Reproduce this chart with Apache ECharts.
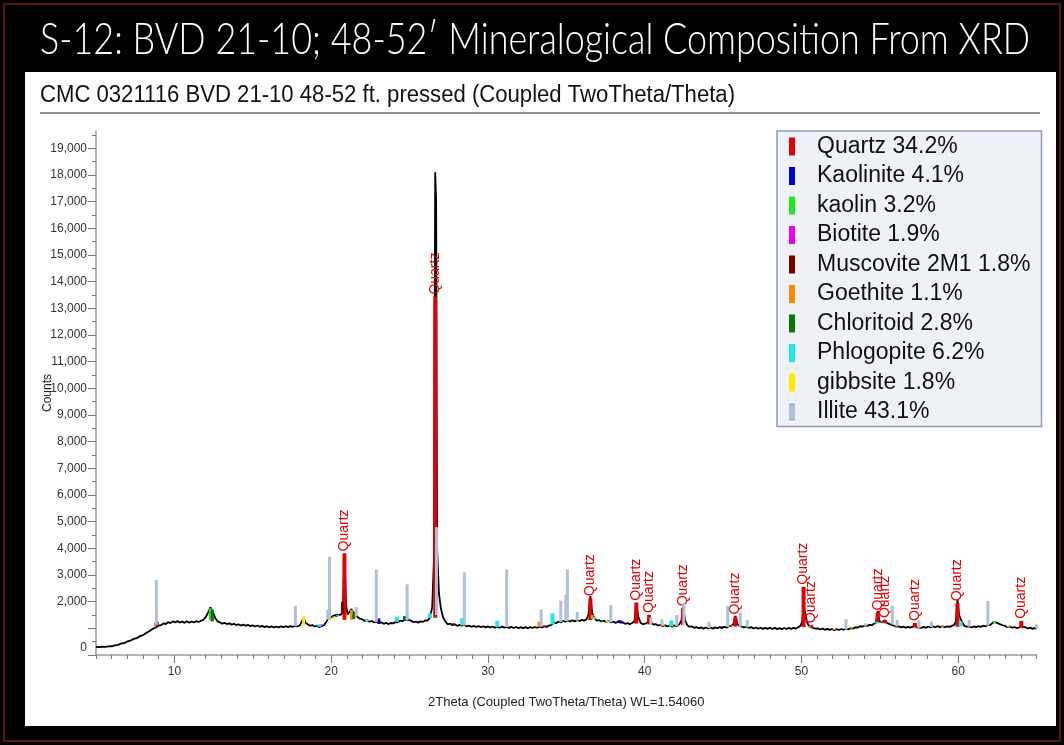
<!DOCTYPE html>
<html><head><meta charset="utf-8">
<script src="https://cdn.jsdelivr.net/npm/echarts@6/dist/echarts.min.js"></script>
<style>html,body{margin:0;padding:0;background:#000}#c{width:1064px;height:745px}</style>
</head><body><div id="c"></div>
<script>
// ---------- DATA ----------
const mainTitle = 'S-12: BVD 21-10; 48-52\u2032 Mineralogical Composition From XRD';
const subTitle = 'CMC 0321116 BVD 21-10 48-52 ft. pressed (Coupled TwoTheta/Theta)';
const xAxisTitle = '2Theta (Coupled TwoTheta/Theta) WL=1.54060';
const yAxisTitle = 'Counts';
const peakLabel = 'Quartz';

const xMajorTicks = [10, 20, 30, 40, 50, 60];
const yMajorTicks = [0,1000,2000,3000,4000,5000,6000,7000,8000,9000,10000,11000,12000,13000,14000,15000,16000,17000,18000,19000];
const yTickLabels = [0,2000,3000,4000,5000,6000,7000,8000,9000,10000,11000,12000,13000,14000,15000,16000,17000,18000,19000];
const yMinorTicks = [500,1500,2500,3500,4500,5500,6500,7500,8500,9500,10500,11500,12500,13500,14500,15500,16500,17500,18500,19500];

const phaseNames = ['Quartz','Kaolinite','kaolin','Biotite','Muscovite 2M1','Goethite','Chloritoid','Phlogopite','gibbsite','Illite'];
const phasePercents = [34.2, 4.1, 3.2, 1.9, 1.8, 1.1, 2.8, 6.2, 1.8, 43.1];

// measured pattern: [2theta, counts]
const pattern = [[5.0,310],[5.2,298],[5.4,310],[5.6,302],[5.8,322],[6.0,328],[6.2,358],[6.4,378],[6.6,428],[6.8,450],[7.0,508],[7.2,540],[7.4,602],[7.6,632],[7.8,708],[8.0,745],[8.2,828],[8.4,890],[8.6,972],[8.8,1030],[9.0,1100],[9.15,1120],[9.3,1185],[9.45,1160],
[9.6,1230],[9.75,1195],[9.9,1262],[10.05,1218],[10.2,1270],[10.35,1215],[10.5,1258],[10.65,1205],[10.8,1262],[10.95,1212],[11.1,1255],[11.25,1220],[11.4,1268],[11.55,1236],[11.7,1285],[11.85,1320],[12.0,1420],[12.15,1590],[12.3,1790],[12.45,1620],[12.6,1390],[12.75,1262],[12.9,1225],[13.05,1175],[13.2,1205],[13.35,1160],[13.5,1185],[13.65,1140],[13.8,1170],[13.95,1122],[14.1,1150],[14.25,1105],[14.4,1138],[14.55,1095],[14.7,1128],[14.85,1082],[15.0,1115],[15.15,1070],[15.3,1105],[15.45,1058],[15.6,1092],[15.75,1045],[15.9,1080],[16.05,1035],[16.2,1072],[16.35,1030],[16.5,1068],[16.65,1038],[16.8,1075],[16.95,1040],[17.1,1080],[17.25,1048],[17.4,1085],[17.55,1055],[17.7,1095],[17.85,1070],[18.0,1110],[18.12,1180],[18.25,1380],[18.38,1200],[18.5,1140],[18.65,1095],[18.8,1125],[18.95,1070],[19.1,1088],[19.25,1040],[19.4,1085],[19.55,1120],
[19.7,1250],[19.8,1350],[19.9,1420],[20.05,1430],[20.2,1490],[20.35,1475],[20.5,1500],[20.65,1520],[20.75,1700],[20.85,3800],[20.95,1900],[21.05,1520],[21.2,1640],[21.3,1720],[21.42,1600],[21.55,1520],[21.7,1420],[21.85,1360],
[22.0,1335],[22.15,1280],[22.3,1305],[22.45,1250],[22.6,1275],[22.75,1218],[22.9,1248],[23.05,1192],[23.2,1225],[23.35,1170],[23.5,1205],[23.65,1160],[23.8,1200],[23.95,1185],[24.1,1235],[24.25,1225],[24.4,1285],[24.55,1270],[24.7,1330],[24.8,1395],[24.95,1310],[25.1,1285],[25.25,1228],[25.4,1255],[25.55,1210],[25.7,1262],[25.85,1240],[26.0,1300],[26.15,1290],[26.3,1390],
[26.45,1800],[26.56,3600],[26.64,18100],[26.7,17000],[26.76,4000],[26.88,2300],[27.0,1750],[27.15,1400],
[27.3,1240],[27.45,1150],[27.6,1175],[27.75,1118],[27.9,1145],[28.05,1095],[28.2,1130],[28.35,1100],[28.5,1135],[28.65,1072],[28.8,1100],[28.95,1058],[29.1,1092],[29.25,1050],[29.4,1085],[29.55,1040],[29.7,1080],[29.85,1035],[30.0,1072],[30.15,1030],[30.3,1068],[30.45,1025],[30.6,1065],[30.75,1022],[30.9,1062],[31.05,1025],[31.2,1058],[31.35,1015],[31.5,1055],[31.65,1012],[31.8,1050],[31.95,1010],[32.1,1048],[32.25,1005],[32.4,1045],[32.55,1008],[32.7,1042],[32.85,1012],[33.0,1050],[33.15,1022],[33.3,1065],[33.45,1035],[33.6,1075],[33.75,1055],[33.9,1105],[34.05,1130],[34.2,1210],[34.35,1195],[34.5,1248],[34.65,1222],[34.8,1275],[34.95,1250],[35.1,1300],[35.25,1258],[35.4,1302],[35.55,1262],[35.7,1310],[35.85,1275],[36.0,1318],[36.15,1290],[36.3,1340],[36.42,1520],[36.54,2210],[36.66,1560],[36.8,1380],[36.95,1290],[37.1,1305],[37.25,1255],[37.4,1290],[37.55,1240],[37.7,1275],[37.85,1222],[38.0,1250],[38.15,1205],[38.3,1248],[38.45,1215],[38.6,1225],[38.75,1170],[38.9,1195],[39.05,1158],[39.2,1200],[39.35,1260],[39.47,1960],[39.6,1420],[39.75,1200],[39.9,1155],[40.05,1175],[40.2,1230],[40.29,1500],[40.4,1240],[40.55,1140],[40.7,1160],[40.85,1105],[41.0,1135],[41.15,1082],[41.3,1115],[41.45,1070],[41.6,1105],[41.75,1065],[41.9,1110],[42.05,1085],[42.2,1140],[42.35,1300],[42.45,1810],[42.58,1300],[42.72,1120],[42.85,1060],[43.0,1075],[43.15,1018],[43.3,1048],[43.45,1000],[43.6,1035],[43.75,990],[43.9,1030],[44.05,995],[44.2,1042],[44.35,990],[44.5,1035],[44.65,1002],[44.8,1048],[44.95,1010],[45.1,1058],[45.25,1030],[45.4,1085],[45.55,1100],[45.68,1180],[45.79,1460],[45.92,1170],[46.05,1095],[46.2,1060],[46.35,1035],[46.5,1062],[46.65,1015],[46.8,1045],[46.95,995],[47.1,1030],[47.25,985],[47.4,1022],[47.55,978],[47.7,1018],[47.85,980],[48.0,1025],[48.15,975],[48.3,1015],[48.45,972],[48.6,1010],[48.75,968],[48.9,1012],[49.05,975],[49.2,1018],[49.35,978],[49.5,1015],[49.65,992],[49.8,1040],[49.95,1100],[50.05,1250],[50.14,1820],[50.25,1560],[50.35,1250],[50.5,1060],[50.62,1110],[50.75,1020],[50.9,985],[51.05,1000],[51.2,955],[51.35,990],[51.5,945],[51.65,980],[51.8,940],[51.95,975],[52.1,935],[52.25,972],[52.4,938],[52.55,975],[52.7,945],[52.85,985],[53.0,960],[53.15,1008],[53.3,990],[53.45,1040],[53.6,1030],[53.75,1078],[53.9,1068],[54.05,1105],[54.2,1095],[54.35,1130],[54.5,1120],[54.62,1165],[54.75,1210],[54.87,1650],[54.98,1280],[55.12,1230],[55.22,1250],[55.33,1300],[55.45,1205],[55.6,1170],[55.75,1130],[55.9,1100],[56.05,1060],[56.2,1078],[56.35,1035],[56.5,1065],[56.65,1020],[56.8,1058],[56.95,1025],[57.1,1062],[57.24,1110],[57.38,1040],[57.5,1060],[57.65,1015],[57.8,1055],[57.95,1020],[58.1,1062],[58.25,1035],[58.4,1075],[58.55,1040],[58.7,1082],[58.85,1048],[59.0,1078],[59.15,1040],[59.3,1070],[59.45,1052],[59.6,1090],[59.75,1130],[59.85,1250],[59.96,2060],[60.06,1500],[60.15,1560],[60.28,1200],[60.4,1095],[60.55,1060],[60.7,1075],[60.85,1030],[61.0,1070],[61.15,1042],[61.3,1082],[61.45,1055],[61.6,1098],[61.75,1078],[61.9,1125],[62.05,1120],[62.15,1175],[62.25,1230],[62.35,1270],[62.45,1215],[62.55,1240],[62.7,1150],[62.85,1115],[63.0,1090],[63.15,1045],[63.3,1068],[63.45,1022],[63.6,1050],[63.75,1005],[63.9,1040],[64.03,1085],[64.15,1020],[64.3,1038],[64.45,992],[64.6,1025],[64.75,980],[64.9,1015],[65.0,990]];

// reference sticks per phase: [2theta, base counts, top counts]
const quartzSticks = [[20.85,1320,3810],[26.64,1400,13440],[36.54,1310,2130],[39.47,1180,1960],[40.29,1150,1500],[42.45,1120,1750],[45.79,1070,1440],[50.14,1050,2560],[50.62,1020,1120],[54.87,1200,1590],[55.33,1190,1310],[57.24,1030,1200],[59.96,1060,1940],[64.03,1010,1280]];
const kaoliniteSticks = [[20.35,1450,1540],[23.05,1190,1370],[24.9,1300,1370],[38.37,1220,1310],[38.5,1220,1290],[45.0,1040,1080],[55.0,1230,1260]];
const kaolinSticks = [[12.3,1300,1750],[20.42,1460,1500],[24.75,1380,1440],[35.0,1270,1320],[37.7,1240,1290],[45.5,1100,1130],[55.1,1220,1260],[62.3,1200,1250]];
const biotiteSticks = [[8.8,1100,1200],[19.35,1080,1150],[33.6,1070,1120],[45.3,1060,1110],[50.3,1250,1300]];
const muscoviteSticks = [[8.9,1110,1250],[20.72,1550,2000],[22.9,1220,1300],[25.5,1230,1270],[27.8,1130,1190],[34.95,1280,1330],[45.4,1060,1120]];
const goethiteSticks = [[21.3,1320,1690],[33.26,1060,1250],[36.66,1350,1500],[41.2,1080,1120],[53.2,990,1040],[59.0,1050,1080]];
const chloritoidSticks = [[12.42,1260,1700],[21.45,1350,1560],[24.68,1300,1460],[37.3,1240,1300],[56.0,1070,1100]];
const phlogopiteSticks = [[19.25,1060,1150],[22.3,1270,1330],[24.2,1250,1440],[26.3,1380,1560],[28.36,1110,1380],[30.6,1050,1280],[34.12,1150,1560],[36.8,1350,1420],[41.7,1070,1300],[54.83,1180,1250],[60.16,1080,1260]];
const gibbsiteSticks = [[18.25,1100,1460],[20.18,1350,1440],[37.6,1230,1280],[50.5,1030,1070],[52.1,950,990],[57.5,1030,1060],[63.2,1040,1080]];
const illiteSticks = [[8.85,1130,2820],[17.72,1080,1840],[19.78,1330,1700],[19.9,1320,3690],[21.6,1450,1800],[22.88,1240,3210],[24.85,1300,2650],[26.72,1500,4800],[28.5,1110,3100],[31.2,1050,3210],[33.4,1060,1710],[34.65,1230,2040],[34.97,1270,2250],[35.07,1280,3210],[35.7,1290,1620],[37.84,1220,1870],[40.4,1140,1410],[41.1,1100,1340],[42.05,1090,1500],[42.5,1120,1960],[44.1,1010,1250],[45.3,1050,1840],[46.1,1060,1590],[46.55,1040,1310],[52.85,960,1340],[54.1,1090,1190],[55.8,1150,1840],[56.1,1070,1310],[57.5,1030,1300],[58.3,1050,1250],[60.7,1060,1310],[61.9,1100,2025],[65.0,1000,1150]];

// ---------- STYLE ----------
const phaseColors = ['#e40000','#0000d8','#1fe61f','#f000f0','#7a0000','#ff8c00','#087808','#1eeaea','#ffea00','#afc0d8'];
const phaseStickWidth = [4,3,3,3,3,3,3,4,3,3];
const phaseSticks = [quartzSticks,kaoliniteSticks,kaolinSticks,biotiteSticks,muscoviteSticks,goethiteSticks,chloritoidSticks,phlogopiteSticks,gibbsiteSticks,illiteSticks];

function measure(text, font){
  const c = document.createElement('canvas').getContext('2d');
  c.font = font; return c.measureText(text).width;
}
const titleFont = '300 44px Lato';
const titleScale = 990 / measure(mainTitle, titleFont);
const subFont = 'normal 23px "Liberation Sans"';
const subScale = 695 / measure(subTitle, subFont);

const legendNames = phaseNames.map((n,i)=> n + ' ' + phasePercents[i].toFixed(1) + '%');

function stickSeries(i){
  const color = phaseColors[i], w = phaseStickWidth[i];
  const withLabel = i === 0;
  return {
    type:'custom', name: legendNames[i], coordinateSystem:'cartesian2d', z: 5 + i,
    itemStyle:{color}, data: phaseSticks[i], encode:{x:0, y:[1,2]},
    silent:true,
    renderItem:(params, api)=>{
      const x = api.value(0), b = api.value(1), t = api.value(2);
      const p0 = api.coord([x,b]), p1 = api.coord([x,t]);
      const children = [{type:'rect', shape:{x:p0[0]-w/2, y:p1[1], width:w, height:Math.max(1,p0[1]-p1[1])}, style:{fill:color}}];
      if(withLabel){
        children.push({type:'text', x:p1[0], y:p1[1]-2, rotation:Math.PI/2,
          style:{text:peakLabel, fill:color, font:'14px "Liberation Sans"', align:'left', verticalAlign:'middle', textAlign:'left', textVerticalAlign:'middle'}});
      }
      return {type:'group', children};
    }
  };
}

const chart = echarts.init(document.getElementById('c'), null, {renderer:'canvas'});
const axisColor = '#9a9a9a';
const series = [{
  type:'line', name:'pattern', data: pattern, symbol:'none', silent:true, z:2,
  lineStyle:{color:'#000', width:1.8}, itemStyle:{color:'#000'}
}];
for(let i=0;i<phaseNames.length;i++) series.push(stickSeries(i));

chart.setOption({
  animation:false,
  backgroundColor:'#000',
  graphic:[
    {type:'rect', z:0, shape:{x:4, y:4, width:1056, height:737}, style:{fill:'none', stroke:'#5a1414', lineWidth:2}},
    {type:'rect', z:0, shape:{x:25, y:72, width:1031, height:654}, style:{fill:'#ffffff'}},
    {type:'text', z:1, x:40, y:40, scaleX:titleScale, style:{text:mainTitle, fill:'#ffffff', font:titleFont, align:'left', verticalAlign:'middle', textAlign:'left', textVerticalAlign:'middle'}},
    {type:'text', z:1, x:40, y:96, scaleX:subScale, style:{text:subTitle, fill:'#111111', font:subFont, align:'left', verticalAlign:'middle', textAlign:'left', textVerticalAlign:'middle'}},
    {type:'line', z:1, shape:{x1:40, y1:113, x2:1040, y2:113}, style:{stroke:'#6a6a6a', lineWidth:1.5}}
  ],
  grid:{left:96, right:27.5, top:131, bottom:90, containLabel:false, outerBoundsMode:'none'},
  legend:{
    orient:'vertical', left:777, top:131, padding:[4,11,3,12],
    itemWidth:6, itemHeight:18, itemGap:6.5, icon:'rect',
    backgroundColor:'#eef2f7', borderColor:'#8d9cb4', borderWidth:1.5,
    selectedMode:false,
    textStyle:{fontFamily:'Liberation Sans', fontSize:23, color:'#111', lineHeight:23, padding:[0,0,0,17]},
    data: legendNames
  },
  xAxis:[
    {type:'value', min:5, max:65, interval:1, position:'bottom',
     axisLine:{show:true, onZero:false, lineStyle:{color:axisColor, width:1.5}},
     axisTick:{show:true, length:4, lineStyle:{color:'#777'}},
     axisLabel:{show:false}, splitLine:{show:false},
     name:xAxisTitle, nameLocation:'middle', nameGap:41, nameMoveOverlap:false,
     nameTextStyle:{fontFamily:'Liberation Sans', fontSize:13, color:'#222'}},
    {type:'value', min:5, max:65, position:'bottom', offset:0,
     axisLine:{show:false},
     axisTick:{show:true, length:8, customValues:xMajorTicks, lineStyle:{color:'#777'}},
     axisLabel:{show:true, customValues:xMajorTicks, margin:11, fontFamily:'Liberation Sans', fontSize:12, color:'#333'},
     splitLine:{show:false}}
  ],
  yAxis:[
    {type:'value', min:0, max:19650, position:'left',
     axisLine:{show:true, onZero:false, lineStyle:{color:axisColor, width:1.5}},
     axisTick:{show:true, length:8, customValues:yMajorTicks, lineStyle:{color:'#777'}},
     axisLabel:{show:true, customValues:yTickLabels, margin:9, fontFamily:'Liberation Sans', fontSize:12, color:'#333',
       formatter:v=> v===0 ? '{z|0}' : v.toLocaleString('en-US'),
       rich:{z:{fontFamily:'Liberation Sans', fontSize:12, color:'#333', padding:[0,0,14,0]}}},
     splitLine:{show:false},
     name:yAxisTitle, nameLocation:'middle', nameGap:48, nameRotate:90, nameMoveOverlap:false,
     nameTextStyle:{fontFamily:'Liberation Sans', fontSize:12, color:'#222', verticalAlign:'middle'}},
    {type:'value', min:0, max:19650, position:'left', offset:0,
     axisLine:{show:false},
     axisTick:{show:true, length:4, customValues:yMinorTicks, lineStyle:{color:'#777'}},
     axisLabel:{show:false}, splitLine:{show:false}}
  ],
  series
});
</script></body></html>
